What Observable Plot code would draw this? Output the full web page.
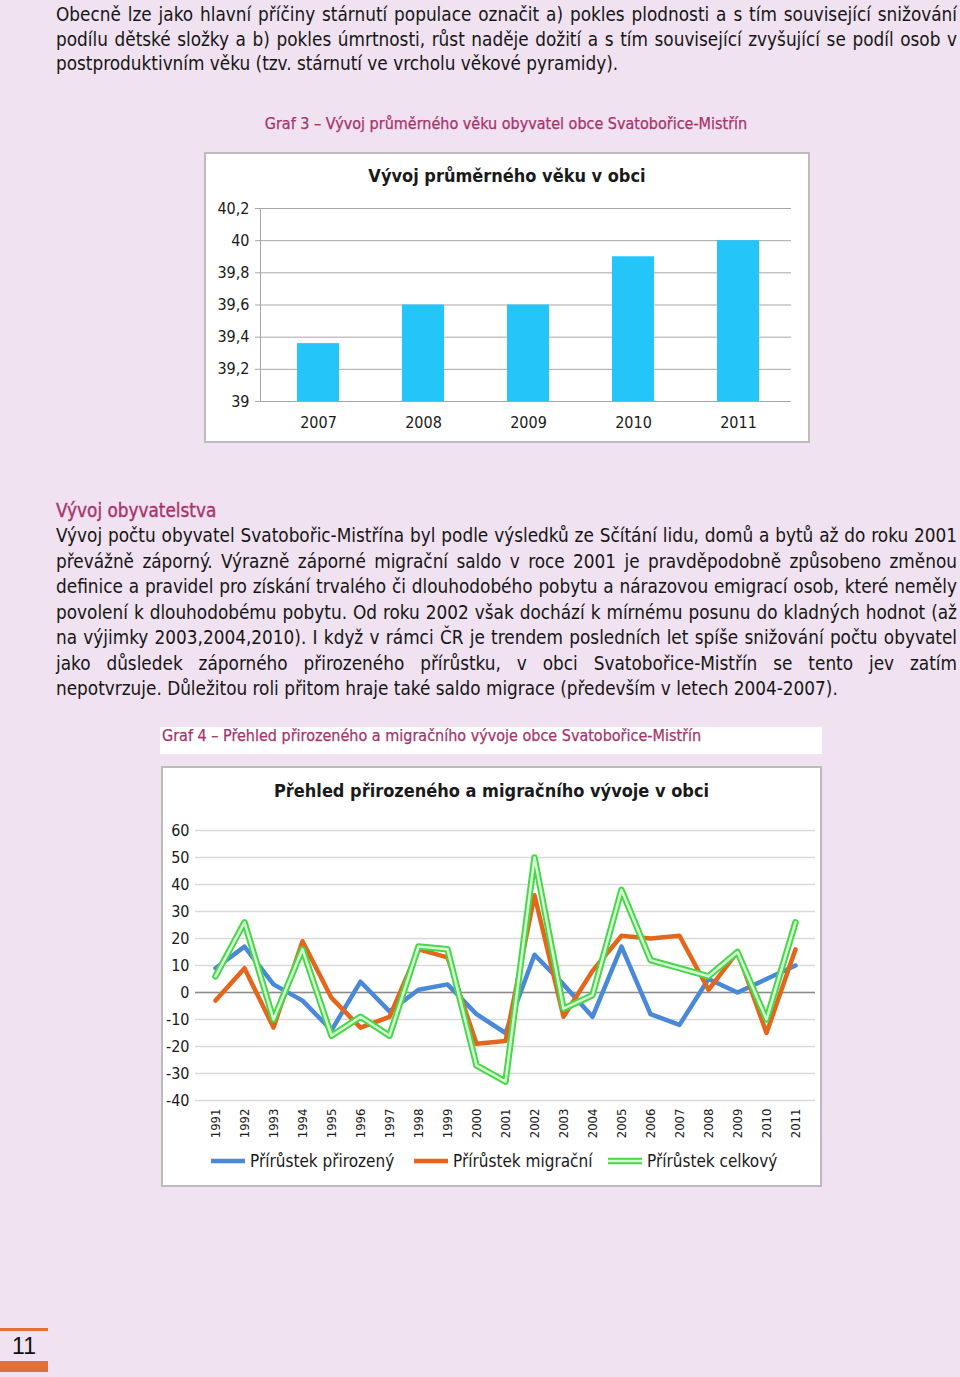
<!DOCTYPE html>
<html><head><meta charset="utf-8">
<script src="https://cdn.jsdelivr.net/npm/d3@7"></script>
<script src="https://cdn.jsdelivr.net/npm/@observablehq/plot@0.6"></script>
<style>
html,body{margin:0;padding:0;}
body{width:960px;height:1377px;background:#f0e2f0;position:relative;overflow:hidden;font-family:"DejaVu Sans Condensed","DejaVu Sans",sans-serif;color:#161616;}
.abs{position:absolute;}
.para{left:56px;width:901px;font-size:18.8px;}
.para div{text-align:justify;text-align-last:justify;}
.para div.last{text-align-last:left;}
.p1 div{height:24.5px;line-height:24.5px;}
.p2 div{height:25.43px;line-height:25.43px;}
.cap{color:#a8336b;font-size:16px;-webkit-text-stroke:0.25px #a8336b;}
.box{background:#fff;border:2px solid #bcbcbc;box-sizing:border-box;}
.ctitle{left:0;right:0;text-align:center;font-weight:bold;font-size:18px;line-height:24px;color:#1a1a1a;}
.leg{font-size:17px;line-height:24px;display:flex;align-items:center;color:#1a1a1a;}
.leg svg{margin-right:4px;}
</style></head>
<body>
<div class="abs para p1" style="top:3px">
<div>Obecně lze jako hlavní příčiny stárnutí populace označit a) pokles plodnosti a s tím související snižování</div>
<div>podílu dětské složky a b) pokles úmrtnosti, růst naděje dožití a s tím související zvyšující se podíl osob v</div>
<div class="last">postproduktivním věku (tzv. stárnutí ve vrcholu věkové pyramidy).</div>
</div>

<div class="abs cap" style="left:206px;width:600px;top:114px;line-height:20px;text-align:center;">Graf 3 – Vývoj průměrného věku obyvatel obce Svatobořice-Mistřín</div>

<div class="abs box" id="box1" style="left:204px;top:152px;width:606px;height:291px;">
  <div class="abs ctitle" style="top:10px;">Vývoj průměrného věku v obci</div>
  <div class="abs" id="chart1" style="left:0;top:38px;"></div>
</div>

<div class="abs para p2" style="top:498px">
<div class="last" style="color:#a8336b;-webkit-text-stroke:0.35px #a8336b;">Vývoj obyvatelstva</div>
<div>Vývoj počtu obyvatel Svatobořic-Mistřína byl podle výsledků ze Sčítání lidu, domů a bytů až do roku 2001</div>
<div>převážně záporný. Výrazně záporné migrační saldo v roce 2001 je pravděpodobně způsobeno změnou</div>
<div>definice a pravidel pro získání trvalého či dlouhodobého pobytu a nárazovou emigrací osob, které neměly</div>
<div>povolení k dlouhodobému pobytu. Od roku 2002 však dochází k mírnému posunu do kladných hodnot (až</div>
<div>na výjimky 2003,2004,2010). I když v rámci ČR je trendem posledních let spíše snižování počtu obyvatel</div>
<div>jako důsledek záporného přirozeného přírůstku, v obci Svatobořice-Mistřín se tento jev zatím</div>
<div class="last">nepotvrzuje. Důležitou roli přitom hraje také saldo migrace (především v letech 2004-2007).</div>
</div>

<div class="abs" style="left:160px;top:727px;width:662px;height:27px;background:#fff;"></div>
<div class="abs cap" style="left:162px;top:726px;line-height:20px;">Graf 4 – Přehled přirozeného a migračního vývoje obce Svatobořice-Mistřín</div>

<div class="abs box" id="box2" style="left:161px;top:766px;width:661px;height:421px;">
  <div class="abs ctitle" style="top:11px;">Přehled přirozeného a migračního vývoje v obci</div>
  <div class="abs" id="chart2" style="left:0;top:42px;"></div>
  <div class="abs leg" style="left:47px;top:381px;"><svg width="36" height="10"><line x1="1" y1="5" x2="35" y2="5" stroke="#4a88d8" stroke-width="4.5"/></svg>Přírůstek přirozený</div>
  <div class="abs leg" style="left:250px;top:381px;"><svg width="36" height="10"><line x1="1" y1="5" x2="35" y2="5" stroke="#e4661a" stroke-width="4.5"/></svg>Přírůstek migrační</div>
  <div class="abs leg" style="left:444px;top:381px;"><svg width="36" height="10"><line x1="1" y1="5" x2="35" y2="5" stroke="#46d846" stroke-width="6.5"/><line x1="1" y1="5" x2="35" y2="5" stroke="#d6f8d6" stroke-width="2.5"/></svg>Přírůstek celkový</div>
</div>

<div class="abs" style="left:0;top:1328px;width:48px;height:3px;background:#e2703c;"></div>
<div class="abs" style="left:0;top:1332px;width:48px;text-align:center;font-family:'Liberation Sans',Arial,sans-serif;font-size:23px;line-height:28px;color:#111;">11</div>
<div class="abs" style="left:0;top:1361px;width:48px;height:11px;background:#e2703c;"></div>

<script>
// Chart 1 data: average age
const ageYears = ["2007", "2008", "2009", "2010", "2011"];
const ageValues = [39.36, 39.6, 39.6, 39.9, 40.0];
const ageTicks = [39, 39.2, 39.4, 39.6, 39.8, 40, 40.2];
const ageBase = 39;

// Chart 2 data: population change
const years = ["1991","1992","1993","1994","1995","1996","1997","1998","1999","2000","2001","2002","2003","2004","2005","2006","2007","2008","2009","2010","2011"];
const natural   = [9, 17, 3, -3, -14, 4, -7, 1, 3, -8, -15, 14, 3, -9, 17, -8, -12, 5, 0, 5, 10];
const migration = [-3, 9, -13, 19, -2, -13, -9, 16, 13, -19, -18, 36, -9, 8, 21, 20, 21, 1, 15, -15, 16];
const total     = [6, 26, -10, 16, -16, -9, -16, 17, 16, -27, -33, 50, -6, -1, 38, 12, 9, 6, 15, -10, 26];
const changeTicks = [-40, -30, -20, -10, 0, 10, 20, 30, 40, 50, 60];

const FONT = '"DejaVu Sans Condensed","DejaVu Sans",sans-serif';

const ageRows = ageYears.map((y, i) => ({year: y, age: ageValues[i]}));
const c1 = Plot.plot({
  width: 602, height: 249,
  marginTop: 16, marginBottom: 40, marginLeft: 54, marginRight: 17,
  style: {fontFamily: FONT, fontSize: "16px", color: "#1a1a1a", background: "transparent"},
  x: {type: "band", domain: ageYears, paddingInner: 0.6, paddingOuter: 0.32, align: 0.53, label: null},
  y: {domain: [ageTicks[0], ageTicks[ageTicks.length - 1]], label: null},
  marks: [
    Plot.ruleY(ageTicks, {stroke: "#a6a6a6", strokeWidth: 1}),
    Plot.barY(ageRows, {x: "year", y1: ageBase, y2: "age", fill: "#24c6fa"}),
    Plot.frame({anchor: "left", stroke: "#a6a6a6"}),
    Plot.axisY({ticks: ageTicks, tickSize: 5, tickPadding: 6, stroke: "#a6a6a6", fill: "#1a1a1a", fontSize: 16,
      tickFormat: d => String(d).replace(".", ","), label: null}),
    Plot.axisX({tickSize: 0, tickPadding: 15, fontSize: 16, fill: "#1a1a1a", label: null})
  ]
});
document.getElementById("chart1").appendChild(c1);

const rows = years.map((y, i) => ({year: y, natural: natural[i], migration: migration[i], total: total[i]}));
const c2 = Plot.plot({
  width: 657, height: 335,
  marginTop: 20, marginBottom: 45, marginLeft: 32, marginRight: 5,
  style: {fontFamily: FONT, fontSize: "16px", color: "#1a1a1a", background: "transparent"},
  x: {type: "point", domain: years, padding: 0.5, label: null},
  y: {domain: [changeTicks[0], changeTicks[changeTicks.length - 1]], label: null},
  marks: [
    Plot.ruleY(changeTicks, {stroke: "#d9d9d9", strokeWidth: 1.5}),
    Plot.ruleY([0], {stroke: "#8c8c8c", strokeWidth: 1.5}),
    Plot.axisY({ticks: changeTicks, tickSize: 0, tickPadding: 6, fontSize: 16, fill: "#1a1a1a", label: null,
      tickFormat: d => String(d)}),
    Plot.axisX({tickRotate: -90, tickSize: 0, tickPadding: 8, fontSize: 13, fill: "#1a1a1a", label: null}),
    Plot.lineY(rows, {x: "year", y: "natural", stroke: "#4a88d8", strokeWidth: 4.5}),
    Plot.lineY(rows, {x: "year", y: "migration", stroke: "#e4661a", strokeWidth: 4.5}),
    Plot.lineY(rows, {x: "year", y: "total", stroke: "#46d846", strokeWidth: 6.5}),
    Plot.lineY(rows, {x: "year", y: "total", stroke: "#d6f8d6", strokeWidth: 2.5})
  ]
});
document.getElementById("chart2").appendChild(c2);
</script>
</body></html>
